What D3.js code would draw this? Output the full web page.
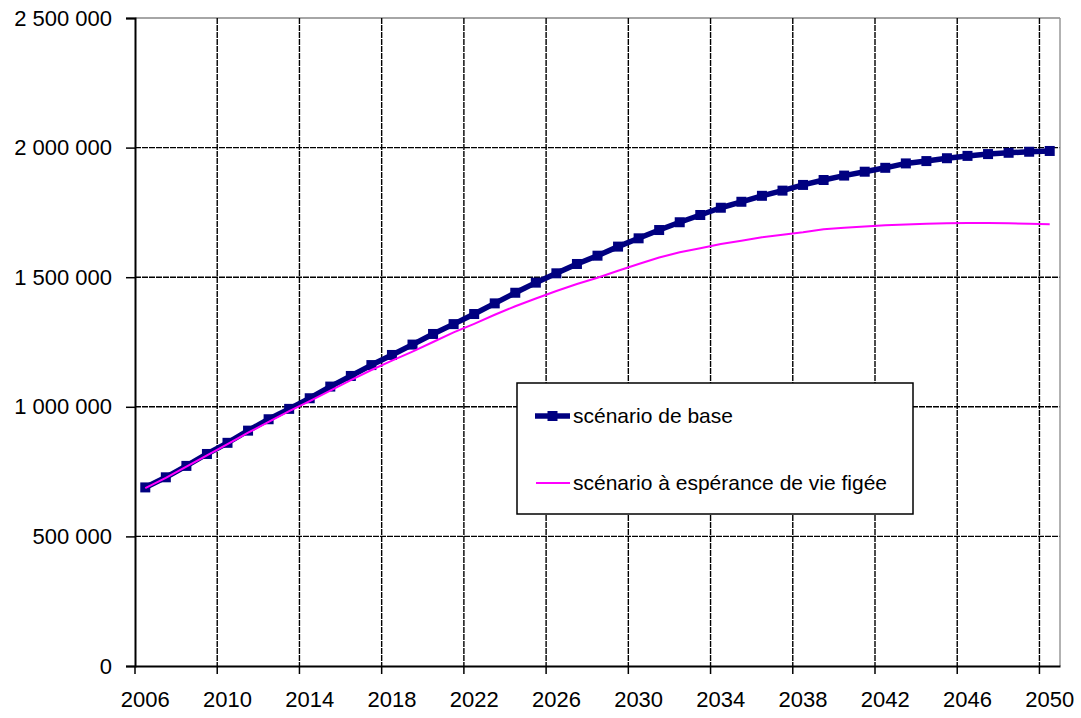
<!DOCTYPE html>
<html>
<head>
<meta charset="utf-8">
<script src="https://cdn.jsdelivr.net/npm/d3@7"></script>
<style>
  body { margin: 0; background: #fff; }
  text { font-family: Arial, "Liberation Sans", sans-serif; fill: #000; }
  .axis path, .axis line { stroke: #000; }
</style>
</head>
<body>
<svg id="chart" width="1081" height="718"></svg>
<script>
    // years on the category axis
    const years = d3.range(2006, 2051);
    const yearLabels = years.filter(y => (y - 2006) % 4 === 0);

    // population (scénario de base)
    const baseValues = [
      689000, 728000, 772000, 818000, 861000, 908000, 952000, 992000, 1033000, 1078000,
      1119000, 1161000, 1200000, 1240000, 1281000, 1319000, 1358000, 1399000, 1440000, 1479000,
      1515000, 1551000, 1583000, 1618000, 1650000, 1682000, 1712000, 1740000, 1768000, 1791000,
      1814000, 1834000, 1856000, 1875000, 1892000, 1907000, 1922000, 1939000, 1948000, 1959000,
      1968000, 1975000, 1980000, 1984000, 1987000
    ];
    // population (scénario à espérance de vie figée)
    const frozenValues = [
      686000, 726000, 769000, 813000, 856000, 900000, 942000, 983000, 1022000, 1062000,
      1103000, 1142000, 1178000, 1213000, 1250000, 1287000, 1320000, 1355000, 1388000, 1418000,
      1447000, 1474000, 1498000, 1525000, 1551000, 1576000, 1596000, 1612000, 1628000, 1641000,
      1654000, 1664000, 1673000, 1685000, 1691000, 1696000, 1700000, 1703000, 1706000, 1708000,
      1709000, 1709000, 1708000, 1706000, 1704000
    ];
    const yTicks = [0, 500000, 1000000, 1500000, 2000000, 2500000];
    const seriesNames = ["scénario de base", "scénario à espérance de vie figée"];

    let svg = d3.select("svg#chart");
    let margin = { top: 18, right: 21, bottom: 52, left: 135 };
    let width = +svg.attr("width");
    let height = +svg.attr("height");
    let chartWidth = width - margin.left - margin.right;
    let chartHeight = height - margin.top - margin.bottom;

    const x = d3.scaleBand().domain(years).range([0, chartWidth]).padding(0);
    const y = d3.scaleLinear().domain([0, 2500000]).range([chartHeight, 0]);
    const bw = x.bandwidth();

    let g = svg.append("g").attr("transform", "translate(" + margin.left + "," + margin.top + ")");

    // gridlines - horizontal
    g.append("g").selectAll("line")
      .data(yTicks.slice(1))
      .join("line")
      .attr("x1", 0).attr("x2", chartWidth)
      .attr("y1", d => y(d)).attr("y2", d => y(d))
      .attr("stroke", d => d === 2500000 ? "#888" : "#000")
      .attr("stroke-width", 1.4)
      .attr("stroke-dasharray", d => d === 2500000 ? null : "6,1");

    // gridlines - vertical, at the category boundaries
    g.append("g").selectAll("line")
      .data(yearLabels.slice(1))
      .join("line")
      .attr("x1", d => x(d)).attr("x2", d => x(d))
      .attr("y1", 0).attr("y2", chartHeight)
      .attr("stroke", "#000")
      .attr("stroke-width", 1.4)
      .attr("stroke-dasharray", "6,1");

    // right border of plot area
    g.append("line")
      .attr("x1", chartWidth).attr("x2", chartWidth)
      .attr("y1", 0).attr("y2", chartHeight)
      .attr("stroke", "#999").attr("stroke-width", 1.5);

    // Y axis
    let leftAxis = d3.axisLeft(y)
      .tickValues(yTicks)
      .tickSize(9)
      .tickPadding(14)
      .tickFormat(d => d3.format(",")(d).replace(/,/g, " "));
    let ya = g.append("g").attr("class", "y axis").call(leftAxis);
    ya.select(".domain").attr("stroke-width", 2);
    ya.selectAll(".tick line").attr("stroke-width", 1.5);
    ya.selectAll("text").style("font-size", "22px");

    // X axis - ticks between categories, labels centred
    let bottomAxis = d3.axisBottom(x)
      .tickValues(yearLabels)
      .tickSize(8)
      .tickSizeOuter(0)
      .tickPadding(17);
    let xa = g.append("g").attr("class", "x axis")
      .attr("transform", "translate(0," + chartHeight + ")")
      .call(bottomAxis);
    xa.select(".domain").attr("stroke-width", 2);
    xa.selectAll(".tick line").attr("x1", -bw / 2).attr("x2", -bw / 2).attr("stroke-width", 1.5);
    xa.selectAll("text").style("font-size", "22px");

    // lines
    const line = d3.line()
      .x((d, i) => x(years[i]) + bw / 2)
      .y(d => y(d));

    g.append("path")
      .datum(baseValues)
      .attr("fill", "none")
      .attr("stroke", "#000080")
      .attr("stroke-width", 5.5)
      .attr("stroke-linejoin", "round")
      .attr("d", line);

    const ms = 10;
    g.append("g").selectAll("rect")
      .data(baseValues)
      .join("rect")
      .attr("x", (d, i) => x(years[i]) + bw / 2 - ms / 2)
      .attr("y", d => y(d) - ms / 2)
      .attr("width", ms).attr("height", ms)
      .attr("fill", "#000080");

    g.append("path")
      .datum(frozenValues)
      .attr("fill", "none")
      .attr("stroke", "#ff00ff")
      .attr("stroke-width", 2)
      .attr("d", line);

    // legend
    let legend = svg.append("g").attr("transform", "translate(517,383)");
    legend.append("rect")
      .attr("width", 396).attr("height", 131)
      .attr("fill", "#fff").attr("stroke", "#000").attr("stroke-width", 1.5);

    legend.append("line")
      .attr("x1", 18).attr("x2", 53).attr("y1", 33).attr("y2", 33)
      .attr("stroke", "#000080").attr("stroke-width", 5.5);
    legend.append("rect")
      .attr("x", 35.5 - ms / 2).attr("y", 33 - ms / 2)
      .attr("width", ms).attr("height", ms).attr("fill", "#000080");
    legend.append("text")
      .attr("x", 56).attr("y", 33).attr("dy", "0.35em")
      .style("font-size", "21px").text(seriesNames[0]);

    legend.append("line")
      .attr("x1", 19).attr("x2", 53).attr("y1", 100).attr("y2", 100)
      .attr("stroke", "#ff00ff").attr("stroke-width", 2);
    legend.append("text")
      .attr("x", 56).attr("y", 100).attr("dy", "0.35em")
      .style("font-size", "21px").text(seriesNames[1]);
</script>
</body>
</html>
